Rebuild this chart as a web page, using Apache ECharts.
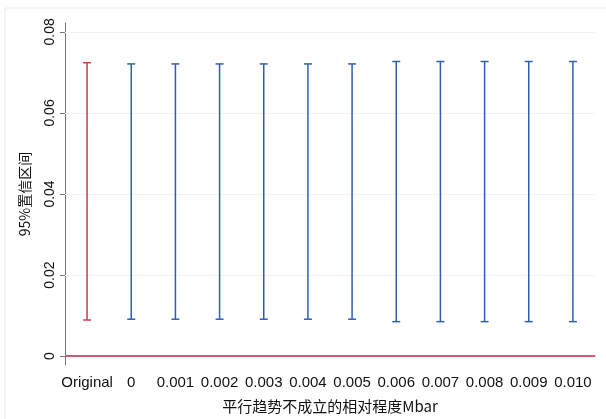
<!DOCTYPE html>
<html><head><meta charset="utf-8">
<script src="https://cdn.jsdelivr.net/npm/echarts@6/dist/echarts.min.js"></script>
<style>html,body{margin:0;padding:0;background:#fff}#c{width:606px;height:419px}</style>
</head><body><div id="c"></div>
<script>
var categories = ['Original','0','0.001','0.002','0.003','0.004','0.005','0.006','0.007','0.008','0.009','0.010'];
var lowerValues = [0.0089,0.0091,0.0091,0.0091,0.0091,0.0091,0.0091,0.0085,0.0085,0.0085,0.0085,0.0085];
var upperValues = [0.0724,0.0721,0.0721,0.0721,0.0721,0.0721,0.0721,0.0727,0.0727,0.0727,0.0727,0.0727];
var yTicks = [0,0.02,0.04,0.06,0.08];

var data = categories.map(function(c,i){return [i, lowerValues[i], upperValues[i]];});
var chart = echarts.init(document.getElementById('c'));
var font = 'Liberation Sans, Arial, sans-serif';
chart.setOption({
  animation:false,
  graphic:[{type:'rect',shape:{x:5,y:8,width:620,height:430},style:{fill:'none',stroke:'#e6edf1',lineWidth:1},silent:true}],
  grid:{left:65,right:11,top:23,bottom:51},
  xAxis:{type:'category',data:categories,boundaryGap:true,
    axisLine:{lineStyle:{color:'#777',width:1}},
    axisTick:{alignWithLabel:true,length:5,lineStyle:{color:'#777'}},
    axisLabel:{color:'#111',fontSize:15,fontFamily:font,margin:10,interval:0},
    name:'平行趋势不成立的相对程度Mbar',nameLocation:'middle',nameGap:34,
    nameTextStyle:{color:'#111',fontSize:15,fontFamily:'Noto Sans CJK SC, sans-serif'}},
  yAxis:{type:'value',min:-0.0022,max:0.0822,
    axisLine:{show:true,lineStyle:{color:'#777',width:1}},
    axisTick:{show:true,length:5,customValues:yTicks,lineStyle:{color:'#777'}},
    axisLabel:{customValues:yTicks,rotate:90,color:'#111',fontSize:14,fontFamily:font,margin:8,
      formatter:function(v){return v===0?'0':String(+v.toFixed(2));}},
    splitLine:{show:false},
    name:'95%置信区间',nameLocation:'middle',nameGap:33,
    nameTextStyle:{color:'#111',fontSize:14,fontFamily:'Noto Sans CJK SC, sans-serif'}},
  series:[
    {type:'line',data:[],silent:true,
     markLine:{silent:true,symbol:'none',label:{show:false},
       lineStyle:{color:'#eef3f6',width:1,type:'solid'},
       data:yTicks.filter(function(v){return v>0;}).map(function(v){return {yAxis:v};})}},
    {type:'line',data:[],silent:true,
     markLine:{silent:true,symbol:'none',label:{show:false},
       lineStyle:{color:'#cf5a74',width:2,type:'solid'},
       data:[{yAxis:0}]}},
    {type:'custom',data:data,z:5,
     renderItem:function(params,api){
       var i=api.value(0);
       var lo=api.coord([i,api.value(1)]);
       var hi=api.coord([i,api.value(2)]);
       var color=i===0?'#c8404e':'#2f5fb3';
       var w=4;
       var st={stroke:color,lineWidth:1.5,fill:'none'};
       return {type:'group',children:[
         {type:'line',shape:{x1:hi[0],y1:hi[1],x2:lo[0],y2:lo[1]},style:st},
         {type:'line',shape:{x1:hi[0]-w,y1:hi[1],x2:hi[0]+w,y2:hi[1]},style:st},
         {type:'line',shape:{x1:lo[0]-w,y1:lo[1],x2:lo[0]+w,y2:lo[1]},style:st}
       ]};
     },
     encode:{x:0,y:[1,2]}}
  ]
});
</script></body></html>
